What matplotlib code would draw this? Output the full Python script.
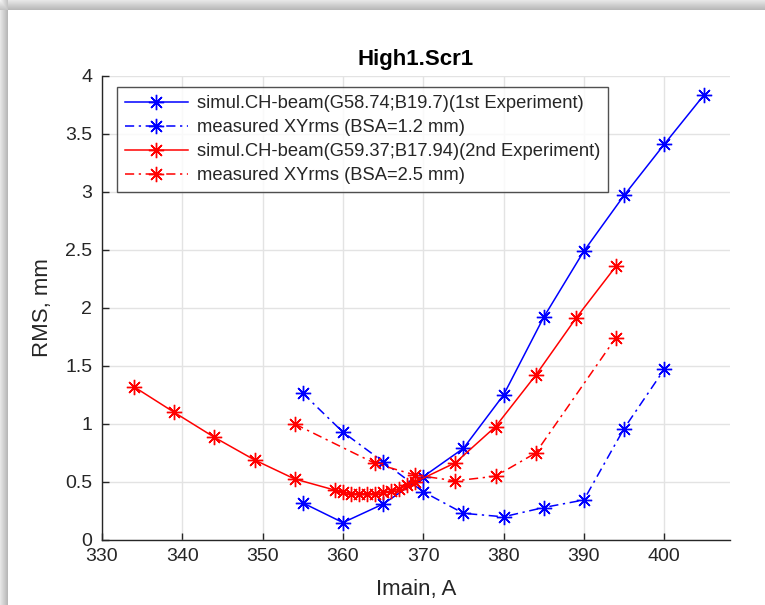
import numpy as np
import matplotlib
matplotlib.use("Agg")
import matplotlib.pyplot as plt

plt.rcParams['font.family'] = ['Liberation Sans', 'DejaVu Sans']

# ---- data ----
x_sim1 = [355, 360, 365, 370, 375, 380, 385, 390, 395, 400, 405]
y_sim1 = [0.32, 0.15, 0.31, 0.546, 0.79, 1.25, 1.92, 2.49, 2.97, 3.41, 3.84]

x_meas1 = [355, 360, 365, 370, 375, 380, 385, 390, 395, 400]
y_meas1 = [1.265, 0.93, 0.675, 0.416, 0.23, 0.20, 0.28, 0.345, 0.96, 1.47]

x_sim2 = [334, 339, 344, 349, 354, 359, 360, 361, 362, 363, 364, 365, 366, 367, 368, 369,
          374, 379, 384, 389, 394]
y_sim2 = [1.32, 1.10, 0.885, 0.69, 0.526, 0.43, 0.41, 0.40, 0.40, 0.40, 0.40, 0.41, 0.42,
          0.44, 0.47, 0.50, 0.666, 0.977, 1.42, 1.91, 2.36]

x_meas2 = [354, 364, 369, 374, 379, 384, 394]
y_meas2 = [1.0, 0.66, 0.56, 0.51, 0.55, 0.75, 1.745]

labels = ["simul.CH-beam(G58.74;B19.7)(1st Experiment)",
          "measured XYrms (BSA=1.2 mm)",
          "simul.CH-beam(G59.37;B17.94)(2nd Experiment)",
          "measured XYrms (BSA=2.5 mm)"]
xticks = [330, 340, 350, 360, 370, 380, 390, 400]
yticks = [0, 0.5, 1, 1.5, 2, 2.5, 3, 3.5, 4]
ytick_labels = ["0", "0.5", "1", "1.5", "2", "2.5", "3", "3.5", "4"]

W, H = 765, 605
fig = plt.figure(figsize=(W / 100, H / 100), dpi=100)
fig.patch.set_facecolor('white')

# shadow frame decoration
bg = fig.add_axes([0, 0, 1, 1], zorder=-10)
img = np.ones((H, W))
yy, xx = np.mgrid[0:H, 0:W]
top = yy < 10
left = xx < 8
shade_top = 0.90 - 0.18 * (yy / 9.0)
shade_left = 0.90 - 0.18 * (xx / 7.0)
img = np.where(top, shade_top, img)
img = np.where(left & ~top, shade_left, img)
img = np.where(left & top, np.minimum(shade_top, shade_left) + 0.05, img)
bg.imshow(img, cmap='gray', vmin=0, vmax=1, aspect='auto', interpolation='bilinear')
bg.axis('off')

ax = fig.add_axes([102 / W, 65 / H, (730 - 102) / W, (540 - 76) / H])

dd = (6, 3, 1.5, 3)
mk = (8, 2, 0)
ms = 11
lw = 1.1
l1, = ax.plot(x_sim1, y_sim1, color=(0, 0, 1), lw=lw, marker=mk, ms=ms, mew=1.0)
l2, = ax.plot(x_meas1, y_meas1, color=(0, 0, 1), lw=lw, marker=mk, ms=ms, mew=1.0,
              linestyle=(0, dd))
l3, = ax.plot(x_sim2, y_sim2, color=(1, 0, 0), lw=lw, marker=mk, ms=ms, mew=1.0)
l4, = ax.plot(x_meas2, y_meas2, color=(1, 0, 0), lw=lw, marker=mk, ms=ms, mew=1.0,
              linestyle=(0, dd))

ax.set_xlim(330, 408.2)
ax.set_ylim(0, 4)
ax.set_xticks(xticks)
ax.set_yticks(yticks)
ax.set_yticklabels(ytick_labels)
ax.grid(True, color='#e3e3e3', lw=1.0)
ax.set_axisbelow(True)
for s in ['top', 'right']:
    ax.spines[s].set_visible(False)
for s in ['left', 'bottom']:
    ax.spines[s].set_color('#262626')
    ax.spines[s].set_linewidth(1.0)
ax.tick_params(direction='in', length=5, width=1.0, colors='#262626',
               labelsize=14, labelcolor='#262626')
ax.tick_params(axis='x', pad=6)
ax.tick_params(axis='y', pad=7)

ax.set_xlabel("Imain, A", fontsize=16, color='#262626', labelpad=10)
ax.set_ylabel("RMS, mm", fontsize=16, color='#262626', labelpad=9)
ax.set_title("High1.Scr1", fontsize=16, fontweight='bold', color='#000000', pad=8)

leg = ax.legend([l1, l2, l3, l4], labels, loc='upper left',
                bbox_to_anchor=((117 - 102) / 628, (540 - 87) / 464),
                fontsize=13.2, frameon=True, fancybox=False, shadow=False,
                handlelength=3.4, handletextpad=0.5, labelspacing=0.38,
                borderpad=0.45, borderaxespad=0.0)
leg.get_frame().set_edgecolor('#262626')
leg.get_frame().set_linewidth(1.0)
for t in leg.get_texts():
    t.set_color('#262626')

fig.savefig("out.png", dpi=100)
